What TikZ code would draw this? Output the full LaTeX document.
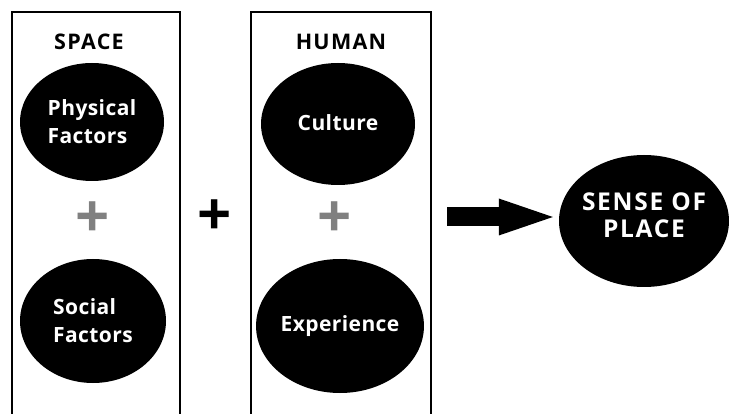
\documentclass[tikz,border=0pt]{standalone}
\usepackage{fontspec}
\setmainfont{Open Sans}
\usetikzlibrary{arrows.meta,shapes.geometric}

\begin{document}
\begin{tikzpicture}[x=1pt,y=-1pt,font=\bfseries\fontsize{21}{28}\selectfont\addfontfeature{LetterSpace=2},
  blob/.style={ellipse,fill=black,text=white,inner sep=0pt},
  title/.style={font=\bfseries\fontsize{21.5}{28}\selectfont\addfontfeature{LetterSpace=6}},
  plus/.style={font=\bfseries\fontsize{60}{60}\selectfont}]
  \useasboundingbox (0,0) rectangle (729,414);
  \clip (0,0) rectangle (729,414);
  \fill[white] (0,0) rectangle (729,414);
  % the two columns run off the bottom
  \draw[line width=1.5pt] (12,430) rectangle (180,12);
  \draw[line width=1.5pt] (251,430) rectangle (431,12);
  \node[title] (space) at (89,42) {SPACE};
  \node[title] (human) at (341,42) {HUMAN};
  \node[blob,minimum width=144pt,minimum height=118pt,align=left] (phys) at (92,122) {Physical\\Factors};
  \node[blob,minimum width=146pt,minimum height=124pt,align=left] (social) at (93,321) {Social\\Factors};
  \node[blob,minimum width=154pt,minimum height=122pt] (culture) at (338,124) {\raisebox{3pt}{Culture}};
  \node[blob,minimum width=156pt,minimum height=134pt] (exper) at (340,326) {Experience};
  \node[blob,minimum width=170pt,minimum height=132pt] (sense) at (644,221) {};
  \node[text=white,align=center,font=\bfseries\fontsize{24.5}{27}\selectfont\addfontfeature{LetterSpace=7}]
    (senselbl) at ([yshift=6pt]sense.center) {SENSE OF\\PLACE};
  \node[plus,text=black!50] (plusA) at (93,220) {+};
  \node[plus,text=black!50] (plusB) at (335,220) {+};
  \node[plus] (plusC) at (215,218) {+};
  \coordinate (tail) at (447,217);
  \draw[line width=19pt,shorten >=6pt,-{Triangle[length=54pt,width=37pt,line width'=0pt]}] (tail) -- (tail -| sense.west);
\end{tikzpicture}
\end{document}
